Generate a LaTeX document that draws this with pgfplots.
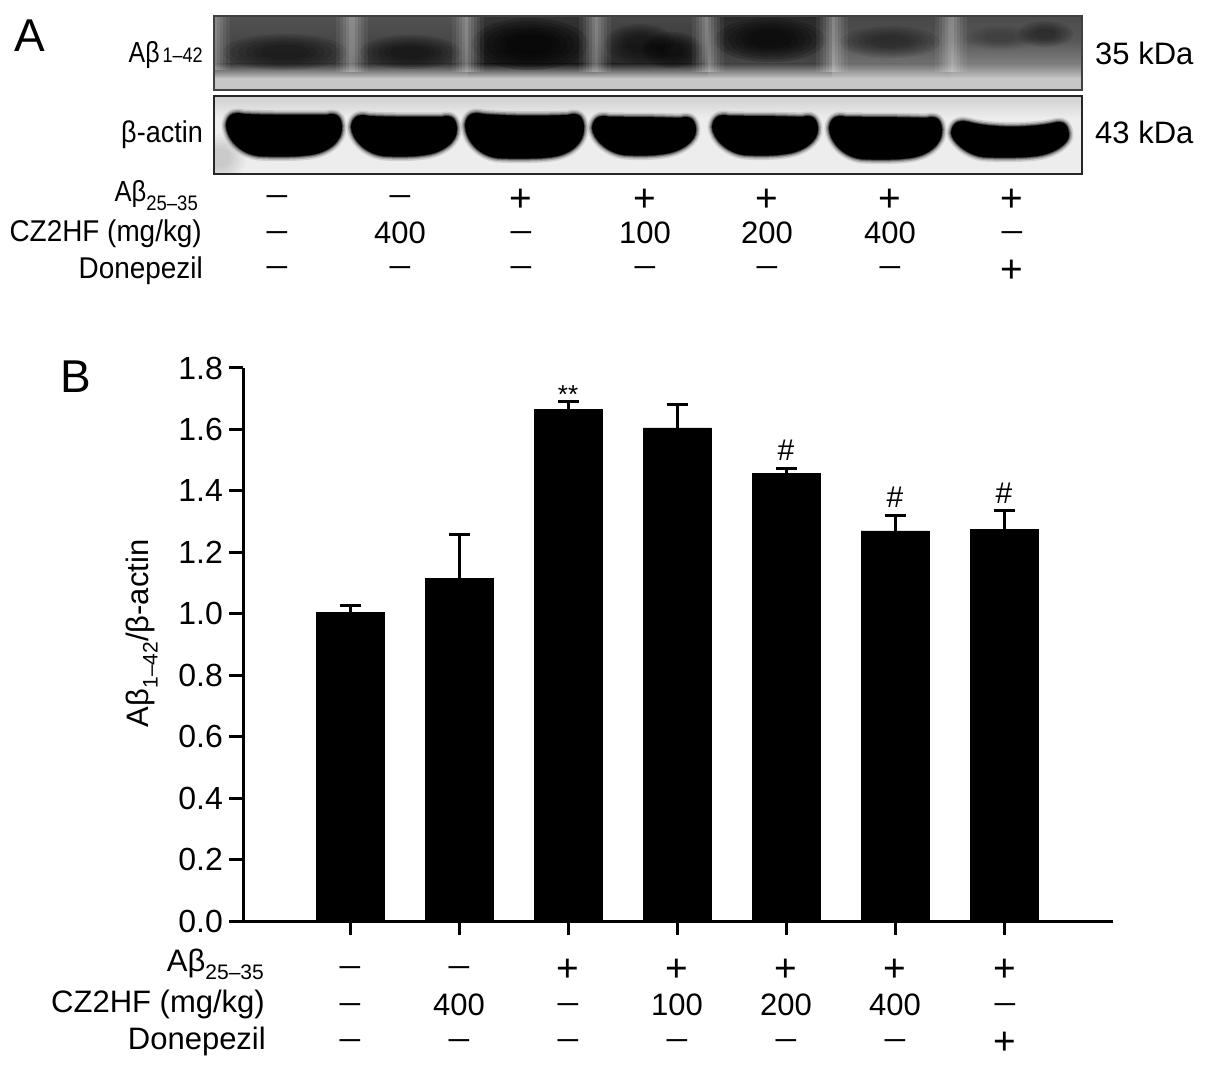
\documentclass[border=0pt]{standalone}
\usepackage{fontspec}
\setmainfont{Liberation Sans}
\usepackage{pgfplots}
\pgfplotsset{compat=1.18}

\newcommand\fs[1]{\fontsize{#1}{#1}\selectfont}
\newcommand\sub[1]{\raisebox{-0.28em}{\fs{21}#1}}
\newcommand\m{\raisebox{3pt}{\scalebox{1.2}[1]{–}}}
\newcommand\p{\raisebox{-3.5pt}{\scalebox{1.25}{+}}}

% one lane of the upper blot: x1, x2, % black top, mid, low
\newcommand\lane[5]{%
  \shade[top color=black!#3,bottom color=black!#5,middle color=black!#4] (#1,17) rectangle (#2,64);
  \shade[top color=black!#5,bottom color=black!24] (#1,64) rectangle (#2,78);
}
% light gap between lanes
\newcommand\gap[2]{%
  \foreach \w/\o in {16/.06,12/.07,9/.08,6/.09,3/.1}{
    \fill[white,opacity=\o] (#1-\w,17) rectangle (#1+\w,#2);
  }
}
% soft dark patch: cx, cy, rx, ry, strength
\newcommand\blob[5]{%
  \foreach \k in {1,.88,.76,.64,.52,.4}{
    \fill[black,opacity=#5/4] (#1,#2) ellipse [x radius=#3*\k,y radius=#4*\k];
  }
}
% one band of the lower blot: x1, x2, ytop, ybot, sag of the top edge
\newcommand\bandpath[5]{(#1,#3+13) .. controls (#1+1,#3+4) and (#1+6,#3-1) .. (#1+18,#3+2)
  .. controls (#1+40,#3+#5) and (#2-40,#3+#5) .. (#2-16,#3+3)
  .. controls (#2-6,#3) and (#2-1,#3+4) .. (#2,#3+14)
  .. controls (#2+1,#4-14) and (#2-16,#4-4) .. (#2-32,#4-2)
  .. controls (#2-45,#4) and (#1+45,#4) .. (#1+32,#4-1)
  .. controls (#1+16,#4-3) and (#1+1,#4-16) .. (#1,#3+13) -- cycle}
\newcommand\band[5]{%
  \foreach \w/\o in {9/.12,6/.2,3.5/.3,1.5/.5}{
    \draw[line width=\w pt,black,opacity=\o] \bandpath{#1}{#2}{#3}{#4}{#5};
  }
  \fill[black] \bandpath{#1}{#2}{#3}{#4}{#5};
}

\pgfplotstableread{
x y err
0 1.005 0.022
1 1.116 0.142
2 1.665 0.025
3 1.605 0.077
4 1.457 0.015
5 1.270 0.050
6 1.275 0.060
}\bars

\begin{document}
\begin{tikzpicture}
\path[use as bounding box] (0,0) rectangle (1205pt,1069pt);

\begin{scope}[x=1pt,y=-1pt,shift={(0pt,1069pt)}]
  % upper blot
  \begin{scope}
    \clip (214,16) rectangle (1082,90);
    \fill[black!22] (214,16) rectangle (1082,90);
    \lane{214}{352}{68}{72}{76}
    \lane{352}{468}{68}{72}{78}
    \lane{468}{595}{80}{84}{88}
    \lane{595}{708}{72}{76}{84}
    \lane{708}{832}{84}{80}{72}
    \lane{832}{951}{72}{68}{56}
    \lane{951}{1082}{70}{66}{50}
    \blob{285}{52}{62}{18}{.45}
    \blob{410}{52}{50}{17}{.5}
    \blob{530}{44}{58}{26}{.8}
    \blob{640}{44}{35}{20}{.5}
    \blob{672}{50}{30}{18}{.6}
    \blob{770}{40}{55}{22}{.7}
    \blob{890}{42}{50}{16}{.35}
    \blob{1045}{34}{28}{13}{.35}
    \blob{1000}{38}{35}{12}{.15}
    \gap{352}{72}\gap{468}{72}\gap{595}{72}\gap{708}{72}\gap{832}{72}\gap{951}{72}
    \gap{214}{70}
  \end{scope}
  \draw[black!75,line width=2.5pt] (214,16) rectangle (1082,90);
  % lower blot
  \begin{scope}
    \clip (214,96) rectangle (1082,174);
    \fill[black!7] (214,96) rectangle (1082,174);
    \shade[top color=black!18,bottom color=black!7] (214,97) rectangle (1082,118);
    \blob{220}{158}{26}{24}{.09}
    \band{226}{342}{112}{157}{3}
    \band{351}{457}{114}{157}{3}
    \band{465}{584}{112}{159}{4}
    \band{592}{696}{115}{156}{2}
    \band{712}{818}{114}{156}{2}
    \band{829}{942}{115}{160}{2}
    \band{951}{1069}{120}{158}{8}
  \end{scope}
  \draw[black!85,line width=2.5pt] (214,96) rectangle (1082,174);

  % panel letters and side labels
  \node[anchor=base west,inner sep=0pt] at (14,52) {\fs{46}A};
  \node[anchor=base west,inner sep=0pt] at (60,393) {\fs{46}B};
  \node[anchor=base east,inner sep=0pt] at (203,63) {\scalebox{.86}[1]{\fs{29}Aβ\fs{21}\,1–42}};
  \node[anchor=base east,inner sep=0pt] at (203,143) {\scalebox{.9}[1]{\fs{30}β-actin}};
  \node[anchor=base west,inner sep=0pt] at (1095,65) {\fs{31}35 kDa};
  \node[anchor=base west,inner sep=0pt] at (1095,144) {\fs{31}43 kDa};

  % treatment rows under panel A
  \node[anchor=base east,inner sep=0pt] at (198,202) {\scalebox{.88}[1]{\fs{29}Aβ\sub{25–35}}};
  \node[anchor=base east,inner sep=0pt] at (202,242) {\scalebox{.93}[1]{\fs{30}CZ2HF (mg/kg)}};
  \node[anchor=base east,inner sep=0pt] at (203,279) {\scalebox{.93}[1]{\fs{30}Donepezil}};
  \foreach \x/\a/\b/\c in {277/\m/\m/\m,400/\m/400/\m,521/\p/\m/\m,645/\p/100/\m,767/\p/200/\m,890/\p/400/\m,1012/\p/\m/\p}{
    \node[anchor=base,inner sep=0pt] at (\x,208) {\fs{31}\a};
    \node[anchor=base,inner sep=0pt] at (\x,244) {\fs{31}\b};
    \node[anchor=base,inner sep=0pt] at (\x,279) {\fs{31}\c};
  }

  % treatment rows under panel B
  \node[anchor=base east,inner sep=0pt] at (264,971) {\fs{31}Aβ\sub{25–35}};
  \node[anchor=base east,inner sep=0pt] at (265,1012) {\fs{31}CZ2HF (mg/kg)};
  \node[anchor=base east,inner sep=0pt] at (266,1049) {\fs{31}Donepezil};
  \foreach \x/\a/\b/\c in {350/\m/\m/\m,459/\m/400/\m,568/\p/\m/\m,677/\p/100/\m,786/\p/200/\m,895/\p/400/\m,1005/\p/\m/\p}{
    \node[anchor=base,inner sep=0pt] at (\x,978) {\fs{31}\a};
    \node[anchor=base,inner sep=0pt] at (\x,1015) {\fs{31}\b};
    \node[anchor=base,inner sep=0pt] at (\x,1051) {\fs{31}\c};
  }
\end{scope}

\begin{axis}[
  at={(243pt,148pt)},anchor=south west,
  scale only axis,width=870pt,height=553pt,
  xmin=-0.982,xmax=7,ymin=0,ymax=1.8,
  axis x line=bottom,axis y line=left,
  axis line style={-,line width=3pt},
  xtick={0,...,6},xticklabels={},
  ytick={0,0.2,...,1.8},
  y tick style={black,line width=3pt},
  x tick style={black,line width=3pt},
  xtick align=outside,ytick align=outside,
  x tick label style={font=\fs{32}},
  y tick label style={font=\fs{32},inner sep=2pt,xshift=-4pt},
  major tick length=14pt,
  /pgf/number format/.cd,fixed,fixed zerofill,precision=1,assume math mode=true,
  /pgfplots/.cd,
  ylabel={\fs{31}Aβ\sub{1–42}/β-actin},
  every axis y label/.style={at={(axis description cs:-0.116,0.52)},rotate=90,anchor=center},
  clip=false,
]
\addplot[ybar,bar width=68pt,draw=black,fill=black,
  error bars/.cd,y dir=plus,y explicit,
  error bar style={black,line width=3pt},
  error mark options={black,line width=3pt,mark size=10.5pt,rotate=90}]
  table[x=x,y=y,y error=err] {\bars};
\node[anchor=base,inner sep=0pt] at (axis cs:2,1.685) {\fs{26}**};
\node[anchor=base,inner sep=0pt] at (axis cs:4,1.5) {\fs{30}\#};
\node[anchor=base,inner sep=0pt] at (axis cs:5,1.345) {\fs{30}\#};
\node[anchor=base,inner sep=0pt] at (axis cs:6,1.36) {\fs{30}\#};
\end{axis}
\end{tikzpicture}
\end{document}
